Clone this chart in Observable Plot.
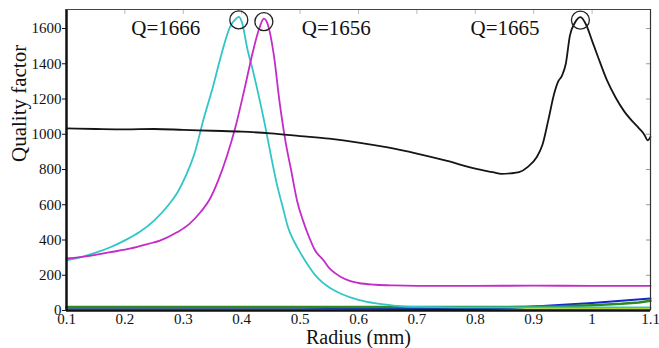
<!DOCTYPE html>
<html><head><meta charset="utf-8">
<script src="https://cdn.jsdelivr.net/npm/d3@7"></script>
<script src="https://cdn.jsdelivr.net/npm/@observablehq/plot@0.6"></script>
<style>
body{margin:0;background:#fff;}
svg text{font-family:"Liberation Serif","DejaVu Serif",serif !important;}
</style>
</head><body><div id="chart"></div>
<script>
const xTicks = [0.1,0.2,0.3,0.4,0.5,0.6,0.7,0.8,0.9,1.0,1.1];
const xTickLabels = ["0.1","0.2","0.3","0.4","0.5","0.6","0.7","0.8","0.9","1","1.1"];
const yTicks = [0,200,400,600,800,1000,1200,1400,1600];

const cyanR = [0.1,0.125,0.15,0.175,0.2,0.225,0.25,0.275,0.29,0.305,0.32,0.335,0.35,0.365,0.38,0.39,0.395,0.40,0.41,0.42,0.43,0.44,0.45,0.46,0.47,0.48,0.49,0.5,0.515,0.53,0.55,0.57,0.6,0.63,0.66,0.7,0.8,0.9,1.0,1.1];
const cyanQ = [285,303,328,359,398,445,510,600,670,770,900,1090,1260,1450,1610,1655,1666,1640,1480,1350,1205,1050,880,720,590,465,390,330,250,185,130,95,60,40,28,20,18,18,18,18];

const magentaR = [0.1,0.14,0.175,0.21,0.24,0.26,0.29,0.31,0.33,0.345,0.36,0.375,0.39,0.405,0.42,0.43,0.438,0.445,0.455,0.465,0.475,0.485,0.495,0.505,0.515,0.525,0.54,0.55,0.56,0.57,0.585,0.6,0.63,0.66,0.7,0.8,0.9,1.0,1.1];
const magentaQ = [295,310,331,352,378,397,445,490,560,630,740,880,1050,1260,1480,1600,1656,1620,1450,1180,960,790,620,510,420,345,285,240,212,190,168,156,146,142,140,140,141,140,140];

const blackR = [0.1,0.15,0.2,0.25,0.3,0.35,0.4,0.45,0.5,0.55,0.6,0.65,0.7,0.75,0.8,0.83,0.845,0.86,0.875,0.89,0.905,0.915,0.925,0.935,0.942,0.948,0.955,0.962,0.97,0.98,0.99,1.0,1.01,1.025,1.04,1.055,1.07,1.08,1.09,1.095,1.1];
const blackQ = [1033,1030,1028,1030,1025,1020,1015,1005,990,975,953,925,890,850,805,785,775,778,785,815,870,940,1080,1230,1300,1330,1400,1560,1630,1665,1620,1530,1440,1310,1210,1130,1070,1035,995,965,985];

const greenR = [0.1,0.3,0.5,0.7,0.85,0.95,1.0,1.05,1.08,1.1];
const greenQ = [20,20,20,20,20,24,30,38,46,55];
const blueR = [0.1,0.3,0.5,0.65,0.75,0.82,0.88,0.95,1.0,1.05,1.1];
const blueQ = [15,15,15,12,8,10,18,32,42,55,68];
const yellowR = [0.1,0.5,0.8,0.9,1.0,1.1];
const yellowQ = [6,6,6,7,8,12];

const peakR = [0.395,0.438,0.98];
const peakQ = [1666,1656,1665];
const labelR = [0.27,0.562,0.851];
const labelQ = [1600,1600,1600];
const labelText = ["Q=1666","Q=1656","Q=1665"];

const rows = (rs, qs) => rs.map((r,i)=>({r, q: qs[i]}));
const font = "Liberation Serif, DejaVu Serif, serif";

const chart = Plot.plot({
  width:659, height:348,
  marginLeft:66, marginRight:9, marginTop:9, marginBottom:38,
  style:{fontFamily:font, fontSize:"15px", color:"#111", background:"#fff"},
  x:{domain:[0.1,1.1]},
  y:{domain:[0,1708]},
  marks:[
    Plot.axisY({ticks:yTicks, tickSize:4, tickPadding:1, label:null, fontSize:15, fontFamily:font, tickFormat:d=>String(d)}),
    Plot.axisY({anchor:"right", ticks:yTicks, tickSize:-5, tickFormat:()=>"", label:null, stroke:"#999"}),
    Plot.axisX({ticks:xTicks, tickSize:0, tickPadding:2.5, label:null, fontSize:15, fontFamily:font, tickFormat:d=>xTickLabels[xTicks.indexOf(d)]}),
    Plot.axisX({anchor:"top", ticks:xTicks, tickSize:-4, tickFormat:()=>"", label:null, stroke:"#bbb"}),
    Plot.line(rows(yellowR,yellowQ), {x:"r", y:"q", stroke:"#d4d400", strokeWidth:2}),
    Plot.line(rows(blueR,blueQ), {x:"r", y:"q", stroke:"#1428d0", strokeWidth:2}),
    Plot.line(rows(greenR,greenQ), {x:"r", y:"q", stroke:"#2e8a1e", strokeWidth:2.5}),
    Plot.line(rows(cyanR,cyanQ), {x:"r", y:"q", stroke:"#30c6c8", strokeWidth:1.8, curve:"monotone-x"}),
    Plot.line(rows(magentaR,magentaQ), {x:"r", y:"q", stroke:"#c42cc8", strokeWidth:1.8, curve:"monotone-x"}),
    Plot.line(rows(blackR,blackQ), {x:"r", y:"q", stroke:"#151515", strokeWidth:1.8, curve:"monotone-x"}),
    Plot.dot(rows(peakR,peakQ), {x:"r", y:"q", r:9, stroke:"#222", strokeWidth:1.3, fill:"none", dy:3}),
    Plot.text(rows(labelR,labelQ).map((d,i)=>({...d, t:labelText[i]})), {x:"r", y:"q", text:"t", fontSize:21, fontFamily:font, fill:"#111"}),
    Plot.ruleY([0], {stroke:"#111", strokeWidth:2.5}),
    Plot.ruleX([0.1], {stroke:"#111", strokeWidth:2.5}),
    Plot.ruleY([1708], {stroke:"#444", strokeWidth:1.2}),
    Plot.ruleX([1.1], {stroke:"#333", strokeWidth:1.2}),
    Plot.text(["Radius (mm)"], {frameAnchor:"bottom", dy:27, fontSize:20, fontFamily:font, fill:"#111", lineAnchor:"middle"}),
    Plot.text(["Quality factor"], {frameAnchor:"left", rotate:-90, dx:-47, dy:2, fontSize:21, fontFamily:font, fill:"#111"})
  ]
});
document.getElementById("chart").appendChild(chart);
</script>
</body></html>
